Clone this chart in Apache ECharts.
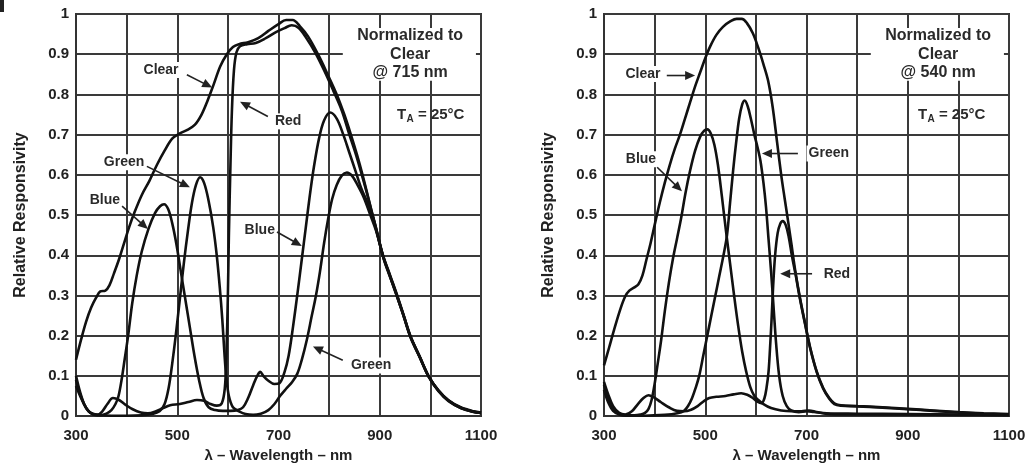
<!DOCTYPE html>
<html>
<head>
<meta charset="utf-8">
<script src="https://cdn.jsdelivr.net/npm/echarts@6/dist/echarts.min.js"></script>
<style>
html, body { margin: 0; padding: 0; background: #fff; }
#chart { width: 1030px; height: 468px; }
</style>
</head>
<body>
<div id="chart"></div>
<script>
// tick labels
var xLabelValues = [300, 500, 700, 900, 1100];
var yLabelValues = [0, 0.1, 0.2, 0.3, 0.4, 0.5, 0.6, 0.7, 0.8, 0.9, 1];

// left plot: no IR filter, normalized to clear @ 715 nm  ([nm, relative])
var leftClear = [[300,0.14],[310,0.19],[320,0.235],[330,0.27],[340,0.295],[348,0.31],[358,0.312],[366,0.325],[375,0.355],[385,0.39],[395,0.43],[405,0.47],[415,0.505],[430,0.55],[445,0.585],[460,0.625],[475,0.66],[490,0.69],[505,0.703],[520,0.712],[535,0.725],[548,0.75],[560,0.785],[572,0.825],[585,0.87],[598,0.9],[610,0.918],[622,0.925],[640,0.93],[660,0.94],[680,0.958],[700,0.975],[715,0.985],[728,0.985],[742,0.97],[758,0.945],[778,0.9],[797,0.85],[815,0.8],[830,0.75],[843,0.7],[855,0.65],[866,0.6],[876,0.55],[886,0.5],[896,0.45],[906,0.4],[920,0.35],[934,0.3],[947,0.25],[960,0.2],[978,0.15],[996,0.1],[1015,0.065],[1035,0.04],[1060,0.022],[1085,0.012],[1100,0.009]];
var leftRed = [[300,0.075],[310,0.045],[320,0.02],[332,0.005],[342,0.003],[352,0.012],[362,0.03],[373,0.045],[385,0.04],[398,0.028],[412,0.017],[428,0.009],[442,0.007],[458,0.012],[472,0.02],[486,0.027],[505,0.03],[522,0.035],[539,0.04],[553,0.038],[566,0.03],[578,0.026],[588,0.032],[594,0.07],[597,0.15],[600,0.3],[602,0.45],[605,0.62],[608,0.76],[612,0.86],[617,0.905],[624,0.92],[638,0.925],[655,0.928],[675,0.94],[695,0.955],[712,0.965],[726,0.972],[740,0.965],[755,0.94],[772,0.905],[790,0.86],[808,0.81],[825,0.76],[840,0.7],[853,0.65],[865,0.598],[876,0.548],[886,0.498],[896,0.448],[907,0.398],[921,0.348],[935,0.298],[948,0.248],[961,0.198],[979,0.148],[997,0.098],[1016,0.063],[1036,0.038],[1060,0.02],[1085,0.011],[1100,0.008]];
var leftBlue = [[300,0.09],[308,0.055],[316,0.03],[325,0.012],[335,0.004],[348,0.002],[360,0.006],[370,0.015],[378,0.03],[384,0.05],[390,0.09],[396,0.14],[403,0.2],[411,0.28],[420,0.35],[430,0.41],[443,0.465],[456,0.505],[466,0.522],[474,0.527],[482,0.515],[490,0.48],[498,0.43],[507,0.36],[516,0.29],[525,0.22],[534,0.15],[543,0.09],[552,0.045],[562,0.022],[575,0.015],[590,0.013],[605,0.013],[620,0.015],[630,0.022],[640,0.045],[650,0.077],[658,0.1],[664,0.11],[670,0.1],[680,0.088],[692,0.08],[702,0.082],[712,0.11],[720,0.15],[729,0.225],[738,0.31],[746,0.39],[754,0.47],[762,0.55],[770,0.62],[780,0.69],[790,0.735],[802,0.755],[815,0.74],[828,0.7],[840,0.655],[852,0.61],[864,0.565],[876,0.53],[888,0.49],[898,0.44],[908,0.39],[921,0.344],[935,0.295],[948,0.245],[961,0.195],[979,0.146],[997,0.097],[1016,0.062],[1036,0.037],[1060,0.02],[1085,0.01],[1100,0.008]];
var leftGreen = [[300,0.1],[308,0.06],[316,0.03],[324,0.013],[335,0.005],[350,0.002],[370,0.001],[400,0.001],[430,0.002],[450,0.005],[465,0.012],[475,0.03],[483,0.07],[490,0.13],[497,0.2],[505,0.29],[513,0.38],[521,0.46],[529,0.53],[537,0.575],[545,0.594],[553,0.58],[562,0.535],[571,0.47],[578,0.4],[584,0.32],[589,0.24],[593,0.16],[597,0.095],[602,0.05],[610,0.022],[622,0.012],[635,0.005],[650,0.003],[665,0.006],[680,0.015],[692,0.03],[703,0.05],[715,0.068],[727,0.085],[737,0.105],[746,0.14],[756,0.19],[765,0.245],[774,0.3],[782,0.36],[790,0.43],[798,0.49],[806,0.54],[815,0.575],[825,0.598],[835,0.606],[845,0.598],[856,0.575],[868,0.545],[880,0.505],[893,0.46],[906,0.4],[920,0.348],[934,0.297],[948,0.247],[961,0.197],[979,0.147],[997,0.098],[1016,0.064],[1036,0.039],[1060,0.021],[1085,0.011],[1100,0.008]];

// right plot: with IR filter, normalized to clear @ 540 nm
var rightClear = [[300,0.126],[310,0.17],[320,0.215],[332,0.265],[342,0.298],[350,0.312],[360,0.32],[368,0.328],[376,0.35],[384,0.39],[392,0.43],[400,0.475],[410,0.53],[420,0.58],[430,0.625],[440,0.665],[450,0.7],[460,0.74],[470,0.78],[480,0.82],[490,0.855],[500,0.89],[510,0.92],[522,0.948],[535,0.968],[550,0.982],[562,0.988],[572,0.988],[582,0.978],[594,0.952],[605,0.915],[615,0.875],[624,0.835],[633,0.77],[642,0.68],[650,0.6],[657,0.54],[663,0.49],[670,0.43],[678,0.36],[687,0.295],[697,0.232],[707,0.172],[720,0.112],[733,0.07],[745,0.045],[755,0.032],[768,0.027],[800,0.025],[850,0.022],[900,0.018],[950,0.014],[1000,0.01],[1050,0.007],[1100,0.005]];
var rightRed = [[300,0.085],[308,0.055],[318,0.025],[330,0.008],[342,0.004],[355,0.012],[367,0.03],[378,0.045],[388,0.052],[398,0.047],[412,0.035],[428,0.022],[444,0.013],[458,0.012],[472,0.016],[485,0.025],[497,0.037],[508,0.045],[522,0.048],[540,0.05],[556,0.054],[571,0.057],[583,0.053],[594,0.045],[603,0.036],[611,0.032],[617,0.045],[621,0.07],[625,0.11],[628,0.17],[631,0.24],[634,0.32],[638,0.4],[643,0.455],[648,0.478],[653,0.485],[659,0.475],[665,0.445],[671,0.4],[678,0.355],[687,0.292],[697,0.23],[707,0.17],[720,0.11],[733,0.068],[745,0.043],[755,0.03],[768,0.026],[800,0.024],[850,0.021],[900,0.017],[950,0.013],[1000,0.009],[1050,0.006],[1100,0.004]];
var rightBlue = [[300,0.078],[308,0.045],[318,0.018],[330,0.006],[345,0.002],[360,0.002],[372,0.004],[381,0.008],[388,0.018],[394,0.04],[400,0.08],[406,0.13],[413,0.19],[420,0.26],[428,0.33],[436,0.39],[444,0.44],[452,0.49],[461,0.555],[470,0.61],[480,0.66],[490,0.695],[498,0.71],[504,0.713],[511,0.703],[518,0.675],[525,0.625],[533,0.545],[541,0.46],[549,0.38],[557,0.3],[565,0.225],[573,0.16],[581,0.11],[589,0.072],[597,0.05],[605,0.04],[615,0.03],[630,0.02],[650,0.014],[670,0.012],[690,0.012],[705,0.014],[720,0.01],[745,0.005],[800,0.004],[900,0.004],[1000,0.003],[1100,0.002]];
var rightGreen = [[300,0.065],[308,0.035],[318,0.013],[330,0.004],[345,0.001],[380,0.001],[420,0.003],[445,0.007],[458,0.013],[466,0.025],[474,0.045],[481,0.07],[488,0.1],[496,0.15],[504,0.2],[512,0.25],[520,0.3],[528,0.35],[536,0.4],[543,0.45],[549,0.53],[555,0.61],[561,0.68],[567,0.74],[573,0.775],[578,0.785],[584,0.77],[590,0.74],[597,0.7],[603,0.67],[609,0.635],[615,0.58],[620,0.52],[625,0.44],[630,0.36],[635,0.27],[640,0.18],[646,0.1],[653,0.05],[661,0.025],[670,0.014],[685,0.01],[700,0.012],[715,0.01],[740,0.007],[800,0.006],[900,0.005],[1000,0.004],[1100,0.003]];

// callouts: label position and arrow, in data units
var leftNotes = [
    {text: 'Clear', at: [468, 0.861], from: [519, 0.849], to: [569, 0.817]},
    {text: 'Red', at: [719, 0.733], from: [679, 0.745], to: [624, 0.782]},
    {text: 'Green', at: [395, 0.631], from: [440, 0.621], to: [525, 0.569]},
    {text: 'Blue', at: [357, 0.537], from: [391, 0.522], to: [442, 0.465]},
    {text: 'Blue', at: [663, 0.463], from: [697, 0.458], to: [746, 0.423]},
    {text: 'Green', at: [883, 0.126], from: [827, 0.139], to: [768, 0.173]}
];
var rightNotes = [
    {text: 'Clear', at: [377, 0.851], from: [424, 0.847], to: [480, 0.847]},
    {text: 'Blue', at: [373, 0.639], from: [405, 0.619], to: [454, 0.559]},
    {text: 'Green', at: [744, 0.653], from: [683, 0.653], to: [612, 0.653]},
    {text: 'Red', at: [760, 0.354], from: [711, 0.354], to: [648, 0.354]}
];
var leftBox = ['Normalized to', 'Clear', '@ 715 nm'];
var rightBox = ['Normalized to', 'Clear', '@ 540 nm'];

var FONT = '"Liberation Sans", Arial, sans-serif';
var dom = document.getElementById("chart");
var myChart = echarts.init(dom);

function xAxisFor(i) {
    return {
        type: 'value', gridIndex: i, min: 300, max: 1100, interval: 100,
        name: 'λ – Wavelength – nm', nameLocation: 'middle', nameGap: 25,
        nameTextStyle: {fontFamily: FONT, fontWeight: 'bold', fontSize: 15, color: '#222'},
        axisLine: {lineStyle: {color: '#333', width: 2}},
        axisTick: {show: false},
        axisLabel: {
            margin: 12, fontFamily: FONT, fontWeight: 'bold', fontSize: 15, color: '#222',
            showMinLabel: true, showMaxLabel: true,
            formatter: function (v) { return xLabelValues.indexOf(v) >= 0 ? String(v) : ''; }
        },
        splitLine: {show: true, lineStyle: {color: '#3a3a3a', width: 2}}
    };
}
function yAxisFor(i) {
    return {
        type: 'value', gridIndex: i, min: 0, max: 1, interval: 0.1,
        name: 'Relative Responsivity', nameLocation: 'middle', nameGap: 47,
        nameTextStyle: {fontFamily: FONT, fontWeight: 'bold', fontSize: 16, color: '#222'},
        axisLine: {lineStyle: {color: '#333', width: 2}},
        axisTick: {show: false},
        axisLabel: {
            margin: 7, fontFamily: FONT, fontWeight: 'bold', fontSize: 15, color: '#222',
            formatter: function (v) {
                for (var k = 0; k < yLabelValues.length; k++) {
                    if (Math.abs(yLabelValues[k] - v) < 1e-6) {
                        var t = yLabelValues[k];
                        return (t === 0 || t === 1) ? String(t) : t.toFixed(1);
                    }
                }
                return '';
            }
        },
        splitLine: {show: true, lineStyle: {color: '#3a3a3a', width: 2}}
    };
}
function curve(name, data, i) {
    return {
        name: name, type: 'line', xAxisIndex: i, yAxisIndex: i, data: data,
        smooth: 0.35, showSymbol: false, symbol: 'none', silent: true, z: 3,
        lineStyle: {color: '#111', width: 2.6}
    };
}

option = {
    animation: false,
    backgroundColor: '#fff',
    grid: [
        {left: 76, top: 14, width: 405, height: 404, show: true, borderColor: '#333', borderWidth: 2},
        {left: 604, top: 14, width: 405, height: 404, show: true, borderColor: '#333', borderWidth: 2}
    ],
    xAxis: [xAxisFor(0), xAxisFor(1)],
    yAxis: [yAxisFor(0), yAxisFor(1)],
    series: [
        curve('Clear', leftClear, 0), curve('Red', leftRed, 0),
        curve('Blue', leftBlue, 0), curve('Green', leftGreen, 0),
        curve('Clear', rightClear, 1), curve('Red', rightRed, 1),
        curve('Blue', rightBlue, 1), curve('Green', rightGreen, 1)
    ]
};
myChart.setOption(option, true);

// annotations (arrows, labels, boxes) placed through the axes
function px(i, p) { return myChart.convertToPixel({gridIndex: i}, p); }

var elems = [];
function addText(x, y, text, size, bg, align) {
    elems.push({
        type: 'text', x: x, y: y, z: 60,
        style: {
            text: text, font: 'bold ' + size + 'px ' + FONT, fill: '#2a2a2a',
            align: align || 'center', verticalAlign: 'middle',
            textAlign: align || 'center', textVerticalAlign: 'middle',
            backgroundColor: bg ? '#fff' : null, padding: bg ? [1, 2] : 0
        }
    });
}
function addArrow(a, b) {
    var dx = b[0] - a[0], dy = b[1] - a[1];
    var len = Math.sqrt(dx * dx + dy * dy);
    var ux = dx / len, uy = dy / len;
    var hl = 10, hw = 4.5;
    elems.push({
        type: 'line', z: 61,
        shape: {x1: a[0], y1: a[1], x2: b[0] - ux * hl * 0.6, y2: b[1] - uy * hl * 0.6},
        style: {stroke: '#222', lineWidth: 1.6}
    });
    elems.push({
        type: 'polygon', z: 61,
        shape: {points: [
            [b[0], b[1]],
            [b[0] - ux * hl - uy * hw, b[1] - uy * hl + ux * hw],
            [b[0] - ux * hl + uy * hw, b[1] - uy * hl - ux * hw]
        ]},
        style: {fill: '#222'}
    });
}
function addNotes(i, notes, box, taAt) {
    notes.forEach(function (n) {
        var p = px(i, n.at);
        addText(p[0], p[1], n.text, 14, true);
        addArrow(px(i, n.from), px(i, n.to));
    });
    // white box behind the normalization note
    var c1 = px(i, [827, 0.965]), c2 = px(i, [1090, 0.834]);
    elems.push({
        type: 'rect', z: 55,
        shape: {x: c1[0], y: c1[1], width: c2[0] - c1[0], height: c2[1] - c1[1]},
        style: {fill: '#fff'}
    });
    var bx = px(i, [960, 0.946]);
    addText(bx[0], bx[1], box[0], 16, false);
    addText(bx[0], bx[1] + 18.5, box[1], 16, false);
    addText(bx[0], bx[1] + 36.5, box[2], 16, false);
    // T_A = 25°C
    var t = px(i, taAt);
    addText(t[0], t[1], 'T', 15, false, 'left');
    addText(t[0] + 9.5, t[1] + 5, 'A', 10, false, 'left');
    addText(t[0] + 21, t[1], '= 25°C', 15, false, 'left');
}
addNotes(0, leftNotes, leftBox, [934, 0.75]);
addNotes(1, rightNotes, rightBox, [920, 0.75]);
elems.push({type: 'rect', z: 70, shape: {x: 0, y: 0, width: 4, height: 12}, style: {fill: '#222'}});

myChart.setOption({graphic: {elements: elems}});
</script>
</body>
</html>
